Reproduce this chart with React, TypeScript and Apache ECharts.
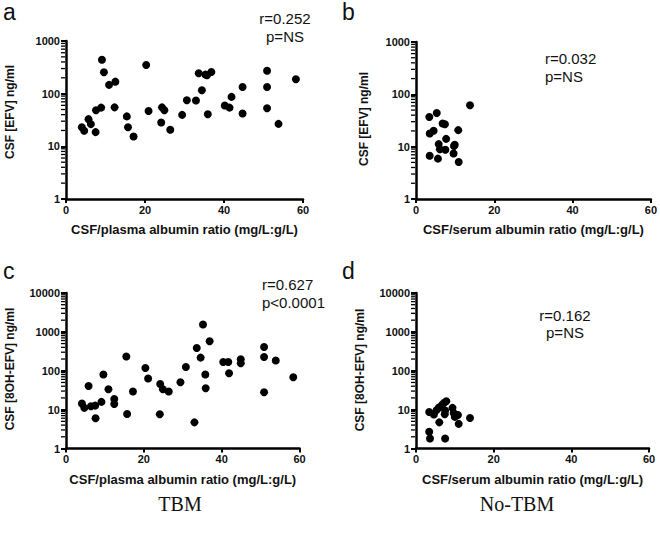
import React, { useEffect, useRef } from "react";
import * as echarts from "echarts";

// Panel a: TBM, CSF/plasma albumin ratio vs CSF [EFV]
const albuminA = [4.0, 4.6, 5.7, 6.3, 7.5, 7.6, 8.9, 9.1, 9.6, 10.9, 12.5, 12.3, 15.4, 15.7, 17.1, 20.3, 20.9, 24.3, 24.9, 24.1, 26.4, 29.4, 30.6, 32.9, 33.6, 34.4, 35.3, 35.7, 36.8, 35.9, 40.2, 41.4, 41.9, 44.7, 44.7, 50.9, 50.9, 50.9, 53.8, 58.2];
const efvA = [23, 19.7, 32.8, 26.4, 18.6, 48.6, 54.4, 442, 255, 147, 169, 55, 37, 23, 15.4, 351, 47, 55, 48.6, 28.3, 20.6, 39.6, 75, 74, 244, 116, 230, 224, 258, 40.8, 59.4, 54.4, 86.8, 134, 41.9, 273, 134, 53, 26.7, 188];

// Panel b: No-TBM, CSF/serum albumin ratio vs CSF [EFV]
const albuminB = [3.4, 5.3, 3.5, 4.5, 3.5, 5.6, 5.8, 6.1, 6.8, 7.4, 7.7, 7.5, 9.7, 9.9, 9.6, 10.8, 10.9, 13.8];
const efvB = [37, 44, 17.9, 20.1, 6.7, 5.9, 11.2, 8.9, 27.8, 26.9, 14.1, 8.7, 10.3, 10.9, 7.4, 20.7, 5.1, 62];

// Panel c: TBM, CSF/plasma albumin ratio vs CSF [8OH-EFV]
const albuminC = [4.1, 4.7, 5.8, 6.4, 7.5, 7.6, 9.1, 9.6, 10.9, 12.4, 12.4, 15.5, 15.7, 17.2, 20.4, 21.1, 24.2, 24.9, 24.1, 26.4, 29.4, 30.8, 33.0, 33.6, 34.6, 35.2, 35.8, 35.9, 36.9, 40.4, 41.7, 41.9, 44.9, 44.9, 50.9, 50.9, 50.9, 53.9, 58.4];
const ohEfvC = [14.3, 11.1, 40.7, 12.2, 12.7, 6.0, 15.8, 80, 33.4, 18.8, 14.0, 232, 7.7, 29.2, 118, 63, 45.8, 33.4, 7.6, 29.2, 50.6, 125, 4.7, 386, 218, 1541, 80, 35.5, 573, 168, 168, 86, 198, 156, 409, 226, 28, 183, 68];

// Panel d: No-TBM, CSF/serum albumin ratio vs CSF [8OH-EFV]
const albuminD = [3.4, 3.4, 3.6, 4.6, 5.3, 5.9, 6.0, 6.7, 7.2, 7.8, 7.4, 7.5, 7.5, 9.4, 9.7, 10.0, 10.8, 11.0, 13.9];
const ohEfvD = [8.7, 2.7, 1.8, 7.5, 9.7, 11.3, 4.7, 13.2, 14.9, 16.4, 7.6, 1.8, 9.5, 11.1, 8.2, 6.5, 7.3, 4.3, 6.1];

const xTitles = [
  "CSF/plasma albumin ratio (mg/L:g/L)",
  "CSF/serum albumin ratio (mg/L:g/L)",
  "CSF/plasma albumin ratio (mg/L:g/L)",
  "CSF/serum albumin ratio (mg/L:g/L)",
];
const yTitles = ["CSF [EFV] ng/ml", "CSF [EFV] ng/ml", "CSF [8OH-EFV] ng/ml", "CSF [8OH-EFV] ng/ml"];
const yMax = [1000, 1000, 10000, 10000];
const xMin = 0;
const xMax = 60;
const xInterval = 20;
const panelLetters = ["a", "b", "c", "d"];
const rValues = ["r=0.252", "r=0.032", "r=0.627", "r=0.162"];
const pValues = ["p=NS", "p=NS", "p<0.0001", "p=NS"];
const groupLabels = ["TBM", "No-TBM"];
const minorMultipliers = [2, 3, 4, 5, 6, 7, 8, 9];
const decades = [1, 10, 100, 1000];

const FONT = "'Liberation Sans', Arial, Helvetica, sans-serif";
const SERIF = "'Liberation Serif', 'DejaVu Serif', serif";

export default function App() {
  const ref = useRef<HTMLDivElement>(null);
  useEffect(() => {
    const chart = echarts.init(ref.current!, null, { renderer: "svg" });
    const grids = [
      { left: 66, top: 41, width: 237, height: 158 },
      { left: 416, top: 42, width: 237, height: 157 },
      { left: 66, top: 293, width: 233.5, height: 155.5 },
      { left: 416, top: 293, width: 233, height: 155.5 },
    ];
    const datasets = [
      albuminA.map((x, i) => [x, efvA[i]]),
      albuminB.map((x, i) => [x, efvB[i]]),
      albuminC.map((x, i) => [x, ohEfvC[i]]),
      albuminD.map((x, i) => [x, ohEfvD[i]]),
    ];
    const xAxis = grids.map((_, i) => ({
      gridIndex: i,
      type: "value",
      min: xMin,
      max: xMax,
      interval: xInterval,
      name: xTitles[i],
      nameLocation: "middle",
      nameGap: 24,
      nameTextStyle: { fontFamily: FONT, fontWeight: "bold", fontSize: 13, color: "#111" },
      axisLine: { onZero: false, lineStyle: { color: "#000", width: 2.5 } },
      axisTick: { show: true, length: 4, lineStyle: { color: "#000", width: 2 } },
      axisLabel: { fontFamily: FONT, fontWeight: "bold", fontSize: 11, color: "#111", margin: 5 },
      splitLine: { show: false },
    }));
    const minorTicks = (max: number) => {
      const vals: number[][] = [];
      decades.forEach((d) => {
        minorMultipliers.forEach((m) => {
          if (d * m < max) vals.push([xMin, d * m]);
        });
      });
      return vals;
    };
    const yAxis = grids.map((_, i) => ({
      gridIndex: i,
      type: "log",
      logBase: 10,
      min: 1,
      max: yMax[i],
      axisLine: { onZero: false, lineStyle: { color: "#000", width: 2.5 } },
      axisTick: { show: true, length: 5, lineStyle: { color: "#000", width: 2 } },
      axisLabel: {
        fontFamily: FONT,
        fontWeight: "bold",
        fontSize: 11,
        color: "#111",
        margin: 6,
        formatter: (v: number) => String(v),
      },
      splitLine: { show: false },
      minorTick: { show: false },
    }));
    const series: any[] = [];
    grids.forEach((_, i) => {
      // minor tick marks on the log axis, at 2..9 of each decade
      series.push({
        type: "scatter",
        xAxisIndex: i,
        yAxisIndex: i,
        silent: true,
        clip: false,
        symbol: "rect",
        symbolSize: [4, 1.3],
        symbolOffset: [-3, 0],
        itemStyle: { color: "#000", opacity: 1 },
        data: minorTicks(yMax[i]),
        z: 1,
      });
      series.push({
        type: "scatter",
        xAxisIndex: i,
        yAxisIndex: i,
        symbol: "circle",
        symbolSize: 8,
        itemStyle: { color: "#000", opacity: 1 },
        data: datasets[i],
        z: 3,
      });
    });

    const annoStyle = { fontFamily: FONT, fontSize: 15, fill: "#111" };
    const letterStyle = { fontFamily: FONT, fontSize: 23, fill: "#111", verticalAlign: "top" };
    const yTitleStyle = { fontFamily: FONT, fontWeight: "bold", fontSize: 12, fill: "#111", align: "center", verticalAlign: "middle" };
    const graphic: any[] = [
      // panel letters
      { type: "text", x: 3, y: 0, style: { ...letterStyle, text: panelLetters[0] } },
      { type: "text", x: 342, y: 0, style: { ...letterStyle, text: panelLetters[1] } },
      { type: "text", x: 3, y: 259, style: { ...letterStyle, text: panelLetters[2] } },
      { type: "text", x: 342, y: 259, style: { ...letterStyle, text: panelLetters[3] } },
      // annotations
      { type: "text", x: 285, y: 18, style: { ...annoStyle, text: rValues[0], align: "center", verticalAlign: "middle" } },
      { type: "text", x: 285, y: 36, style: { ...annoStyle, text: pValues[0], align: "center", verticalAlign: "middle" } },
      { type: "text", x: 545, y: 58, style: { ...annoStyle, text: rValues[1], align: "left", verticalAlign: "middle" } },
      { type: "text", x: 545, y: 76, style: { ...annoStyle, text: pValues[1], align: "left", verticalAlign: "middle" } },
      { type: "text", x: 262, y: 284, style: { ...annoStyle, text: rValues[2], align: "left", verticalAlign: "middle" } },
      { type: "text", x: 262, y: 302, style: { ...annoStyle, text: pValues[2], align: "left", verticalAlign: "middle" } },
      { type: "text", x: 565, y: 315, style: { ...annoStyle, text: rValues[3], align: "center", verticalAlign: "middle" } },
      { type: "text", x: 565, y: 332, style: { ...annoStyle, text: pValues[3], align: "center", verticalAlign: "middle" } },
      // y-axis titles
      { type: "text", x: 10, y: 112, rotation: Math.PI / 2, style: { ...yTitleStyle, text: yTitles[0] } },
      { type: "text", x: 364, y: 119, rotation: Math.PI / 2, style: { ...yTitleStyle, text: yTitles[1] } },
      { type: "text", x: 10, y: 369, rotation: Math.PI / 2, style: { ...yTitleStyle, text: yTitles[2] } },
      { type: "text", x: 360, y: 370, rotation: Math.PI / 2, style: { ...yTitleStyle, text: yTitles[3] } },
      // group labels
      { type: "text", x: 180, y: 504, style: { text: groupLabels[0], fontFamily: SERIF, fontSize: 20, fill: "#111", align: "center", verticalAlign: "middle" } },
      { type: "text", x: 517, y: 504, style: { text: groupLabels[1], fontFamily: SERIF, fontSize: 20, fill: "#111", align: "center", verticalAlign: "middle" } },
    ];

    chart.setOption({
      animation: false,
      backgroundColor: "#fff",
      grid: grids.map((g) => ({ ...g, containLabel: false })),
      xAxis,
      yAxis,
      series,
      graphic,
    });
    return () => chart.dispose();
  }, []);
  return <div ref={ref} style={{ position: "fixed", left: 0, top: 0, width: 660, height: 534 }} />;
}
